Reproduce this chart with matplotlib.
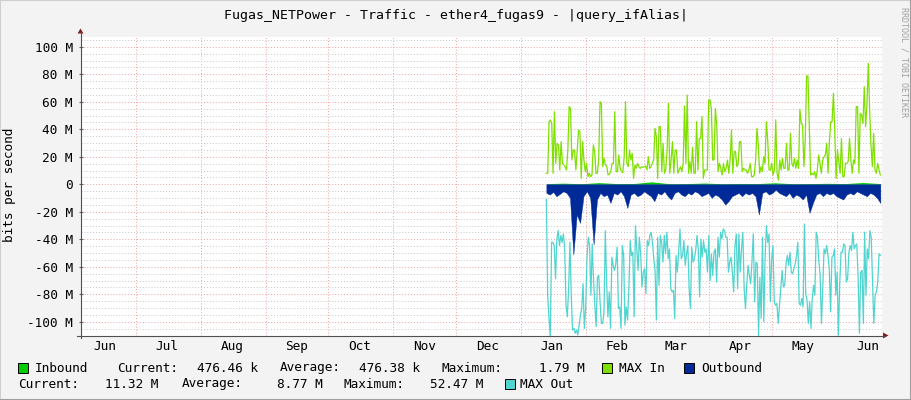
import datetime as dt
import numpy as np
import matplotlib
matplotlib.use('Agg')
import matplotlib.pyplot as plt
import matplotlib.dates as mdates
from matplotlib.ticker import FixedLocator, MultipleLocator
from matplotlib.patches import Rectangle, Polygon
from matplotlib.lines import Line2D

plt.rcParams['font.family'] = 'DejaVu Sans Mono'
plt.rcParams['axes.unicode_minus'] = False

W, H = 911, 400
FS = 9.2

# traffic in Mbit/s
max_in = [
    8.0, 8.0, 45.5, 46.8, 44.3, 8.0, 52.8, 15.2, 29.8, 28.6, 10.4, 31.0, 15.2, 14.0, 12.8, 10.4,
    24.9, 56.5, 55.2, 17.7, 24.9, 24.9, 10.4, 24.9, 39.5, 38.3, 4.3, 31.0, 17.7, 9.2, 15.2, 5.5,
    8.0, 5.5, 6.8, 28.6, 23.7, 8.0, 8.0, 17.7, 60.1, 58.9, 12.8, 18.9, 14.0, 13.3, 6.8, 7.5,
    9.2, 15.2, 15.2, 52.8, 9.2, 9.2, 21.3, 11.6, 9.2, 8.5, 20.1, 60.1, 15.2, 12.8, 24.9, 17.7,
    22.5, 4.3, 14.0, 11.6, 15.2, 12.8, 11.6, 12.8, 12.3, 12.8, 13.3, 10.4, 20.1, 11.6, 12.8, 15.2,
    17.7, 40.7, 34.6, 4.3, 41.9, 41.9, 9.2, 29.8, 8.0, 10.4, 24.9, 58.9, 8.0, 17.7, 31.0, 8.0,
    24.9, 24.9, 8.0, 10.4, 12.8, 9.2, 15.2, 56.9, 15.2, 64.9, 8.0, 16.5, 8.0, 26.9, 8.0, 8.0,
    45.5, 10.4, 33.4, 33.4, 49.2, 4.3, 10.4, 10.4, 10.4, 61.3, 61.3, 55.2, 17.7,
    17.7, 55.2, 43.1, 9.2, 15.2, 11.6, 6.8, 15.2, 9.2, 11.6, 17.7, 8.0, 17.7, 39.5, 8.0, 23.7,
    23.7, 12.8, 15.2, 31.0, 31.0, 9.2, 11.6, 10.4, 10.4, 8.0, 10.4, 15.2, 5.5, 5.5, 6.8, 17.7,
    40.7, 28.6, 8.0, 12.8, 9.2, 20.1, 15.2, 45.5, 32.2, 10.4, 10.4, 15.2, 6.8, 10.4, 46.8, 8.0,
    3.1, 17.7, 10.4, 18.9, 11.6, 11.6, 29.8, 10.4, 10.4, 37.1, 15.2, 12.8, 18.9, 11.6, 17.7, 11.6,
    54.5, 44.3, 43.1, 12.8, 32.2, 78.8, 78.8, 41.9, 6.8, 8.0, 6.8, 9.2, 4.3, 10.4, 21.3, 15.2,
    8.0, 17.7, 20.1, 21.3, 29.8, 8.0, 31.0, 45.5, 45.5, 66.2, 38.3, 4.3, 24.9, 16.5, 8.0, 33.4,
    5.5, 5.5, 15.2, 15.2, 16.5, 33.4, 17.7, 8.0, 17.7, 15.2, 56.5, 56.5, 8.0, 51.6, 50.4, 44.3,
    71.0, 41.9, 57.7, 88.0, 54.0, 28.6, 12.8, 37.1, 10.4, 8.0, 15.2, 10.4, 6.8,
]

max_out = [
    -11.0, -80.7, -97.6, -111.0, -42.2, -42.2, -44.6, -68.7, -39.8, -33.7, -44.6, -37.3, -42.2,
    -36.1, -47.0, -88.0, -96.4, -75.9, -42.2, -80.7, -106.0, -104.8, -108.4, -106.0, -109.6,
    -102.4, -95.2, -90.4, -72.3, -104.8, -90.4, -54.2, -38.6, -44.6, -80.7, -43.4, -68.7, -88.0,
    -103.6, -67.5, -66.3, -85.5, -101.2, -101.2, -92.8, -33.7, -71.1, -96.4, -78.3, -104.8,
    -53.0, -59.0, -62.7, -57.8, -45.8, -90.4, -89.2, -104.8, -44.6, -51.8, -102.4, -89.2, -98.8,
    -75.9, -41.0, -51.8, -49.4, -96.4, -30.1, -47.0, -62.7, -38.6, -50.6, -74.7, -63.9, -61.4,
    -79.5, -41.0, -44.6, -37.3, -34.9, -42.2, -54.2, -62.7, -98.8, -38.6, -73.5, -37.3, -42.2,
    -56.6, -37.3, -50.6, -34.9, -54.2, -47.0, -75.9, -78.3, -77.1, -97.6, -51.8, -63.9, -49.4,
    -32.5, -54.2, -51.8, -41.0, -59.0, -50.6, -44.6, -75.9, -90.4, -45.8, -56.6, -54.2, -48.2,
    -37.3, -47.0, -81.9, -39.8, -53.0, -41.0, -49.4, -47.0, -63.9, -37.3, -69.9, -50.6, -66.3,
    -49.4, -47.0,
    -71.1, -38.6, -53.0, -34.9, -39.8, -32.5, -33.7, -38.6, -38.6, -63.9, -56.6, -53.0, -63.9,
    -78.3, -44.6, -36.1, -75.9, -36.1, -63.9, -47.0, -34.9, -75.9, -90.4, -73.5, -59.0, -66.3,
    -72.3, -55.4, -36.1, -85.5, -56.6, -57.8, -110.8, -67.5, -97.6, -38.6, -100.0, -53.0, -30.1,
    -42.2, -36.1, -85.5, -54.2, -44.6, -85.5, -88.0, -86.7, -101.2, -88.0, -75.9, -62.7, -74.7,
    -73.5, -57.8, -51.8, -59.0, -49.4, -63.9, -65.1, -61.4, -57.8, -51.8, -42.2, -86.7, -88.0,
    -83.1, -89.2, -28.9, -79.5, -84.3, -101.2, -85.5, -104.8, -83.1, -73.5, -80.7, -34.9, -38.6,
    -55.4, -66.3, -101.2, -75.9, -47.0, -50.6, -44.6, -51.8, -61.4, -92.8, -53.0, -51.8, -47.0,
    -80.7, -63.9, -109.6, -71.1, -49.4, -49.4, -43.4, -44.6, -71.1, -68.7, -49.4, -44.6, -48.2,
    -34.9, -47.0, -44.6, -43.4, -67.5, -108.4, -63.9, -62.7, -101.2, -34.9, -80.7, -47.0, -54.2,
    -33.7, -38.6, -71.1, -101.2, -80.7, -78.3, -71.1, -50.6, -51.8,
]

outbound = [
    -6.3, -7.5, -5.6, -8.7, -7.0, -5.1, -6.3, -9.9, -51.1, -22.0, -28.1, -8.7, -5.1, -9.9, -43.8,
    -11.1, -6.3, -8.7, -7.5, -13.6, -6.3, -7.5, -5.1, -8.7, -17.2, -7.5, -6.3, -8.7, -7.5, -5.1,
    -7.0, -8.7, -12.3, -6.3, -7.5, -5.1, -8.7, -11.1, -6.3, -5.1, -7.5, -8.7, -6.3, -7.5, -5.1,
    -6.3, -8.7, -7.5, -6.3, -9.9, -7.5, -8.7, -11.1, -14.8, -12.3, -8.7, -7.5, -6.3, -8.7, -6.3,
    -7.5, -6.3, -8.7, -22.0, -6.3, -5.1, -7.5, -6.3, -3.9, -6.3, -7.5, -8.7, -6.3, -9.9, -7.5,
    -8.7, -11.1, -7.5, -20.8, -13.6, -7.5, -6.3, -8.7, -6.3, -7.5, -6.3, -8.7, -9.9, -11.1, -7.5,
    -6.3, -7.5, -5.1, -6.3, -7.5, -8.7, -6.3, -7.5, -9.9, -13.6,
]

inbound = [0.5, 0.8, 0.4, 1.2, 0.5, 0.6, 1.8, 0.4, 0.5, 0.9, 0.4, 0.6, 0.5, 1.1, 0.4, 0.5,
           0.7, 0.5, 1.3, 0.5]

month_names = ['Jun', 'Jul', 'Aug', 'Sep', 'Oct', 'Nov', 'Dec',
               'Jan', 'Feb', 'Mar', 'Apr', 'May', 'Jun']
y_ticks = [100, 80, 60, 40, 20, 0, -20, -40, -60, -80, -100]

x_start = dt.datetime(2012, 6, 4, 13, 30)
x_end = dt.datetime(2013, 6, 22, 9)
data_start = dt.datetime(2013, 1, 13, 5)
data_end = dt.datetime(2013, 6, 21, 20)


def px(x, y):
    return (x / W, 1 - y / H)


fig = plt.figure(figsize=(W / 100, H / 100), dpi=100, facecolor='#f3f3f3')
ax = fig.add_axes([80.5 / W, 1 - 335.5 / H, 801 / W, 299 / H])
ax.set_facecolor('white')

d0, d1 = mdates.date2num(data_start), mdates.date2num(data_end)
t_in = np.linspace(d0, d1, len(max_in))
t_out = np.linspace(d0, d1, len(max_out))
t_ob = np.linspace(d0, d1, len(outbound))
t_ib = np.linspace(d0, d1, len(inbound))

ax.plot(t_in, max_in, color='#7fe000', lw=0.9, zorder=3)
ax.fill_between(t_ib, inbound, 0, color='#00cc00', lw=0, zorder=3)
ax.plot(t_out, max_out, color='#50d4cf', lw=0.9, zorder=3)
ax.fill_between(t_ob, outbound, 0, color='#002a97', lw=0.3, edgecolor='#002a97', zorder=4)

ax.set_xlim(mdates.date2num(x_start), mdates.date2num(x_end))
ax.set_ylim(-110, 107.5)

# grid
month_starts = [dt.datetime(2012, m, 1) for m in range(7, 13)] + \
               [dt.datetime(2013, m, 1) for m in range(1, 7)]
label_pos = [dt.datetime(2012, m, 16) for m in range(6, 13)] + \
            [dt.datetime(2013, m, 16) for m in range(1, 7)]
ax.xaxis.set_major_locator(FixedLocator(mdates.date2num(label_pos)))
ax.xaxis.set_minor_locator(FixedLocator(mdates.date2num(month_starts)))
ax.set_xticklabels(month_names)
ax.yaxis.set_major_locator(FixedLocator(y_ticks))
ax.yaxis.set_minor_locator(MultipleLocator(5))
ax.set_yticklabels([('%d M' % v) if v != 0 else '0' for v in y_ticks])

ax.grid(which='minor', axis='y', color='#c8c8c8', lw=0.7, linestyle=(0, (1, 2)), zorder=1)
ax.grid(which='major', axis='y', color='#f0a0a0', lw=0.7, linestyle=(0, (1, 2)), zorder=1)
ax.grid(which='minor', axis='x', color='#f0a0a0', lw=0.7, linestyle=(0, (1, 2)), zorder=1)
ax.set_axisbelow(True)

ax.tick_params(axis='x', which='both', length=0, pad=3, labelsize=FS)
ax.tick_params(axis='y', which='major', length=3, direction='inout', color='#606060',
               pad=3.9, labelsize=FS)
ax.tick_params(axis='y', which='minor', length=0)
for s in ax.spines.values():
    s.set_visible(False)

# axis lines and arrows
fig.add_artist(Line2D([80.5 / W, 80.5 / W], [1 - 338 / H, 1 - 32 / H], color='#505050', lw=0.8))
fig.add_artist(Line2D([77 / W, 884 / W], [1 - 335.5 / H, 1 - 335.5 / H], color='#505050', lw=0.8))
fig.add_artist(Polygon([px(77.5, 33.5), px(83.5, 33.5), px(80.5, 28.5)], closed=True,
                       facecolor='#7f1f1f', edgecolor='none'))
fig.add_artist(Polygon([px(883, 332.5), px(883, 338.5), px(888.5, 335.5)], closed=True,
                       facecolor='#7f1f1f', edgecolor='none'))

# title, labels, watermark
fig.text(*px(455.5, 15), 'Fugas_NETPower - Traffic - ether4_fugas9 - |query_ifAlias|',
         ha='center', va='center', fontsize=9.5)
fig.text(*px(10, 185), 'bits per second', rotation=90, ha='center', va='center', fontsize=FS)
fig.text(*px(904, 62), 'RRDTOOL / TOBI OETIKER', rotation=270, ha='center', va='center',
         fontsize=6, color='#a0a0a0')

# legend
legend_boxes = [(18, 368, '#00cc00'), (602, 368, '#7fe000'), (684, 368, '#002a97'),
                (505, 384, '#50d4cf')]
for bx, by, c in legend_boxes:
    fig.add_artist(Rectangle(px(bx, by + 5), 10 / W, 10 / H, facecolor=c,
                             edgecolor='black', lw=0.7))

legend_texts = [
    (35, 368, 'Inbound', 'left'), (117, 368, 'Current:', 'left'), (197, 368, '476.46 k', 'left'),
    (280, 368, 'Average:', 'left'), (359, 368, '476.38 k', 'left'), (441, 368, 'Maximum:', 'left'),
    (585, 368, '1.79 M', 'right'), (619, 368, 'MAX In', 'left'), (701, 368, 'Outbound', 'left'),
    (18, 384, 'Current:', 'left'), (105, 384, '11.32 M', 'left'), (182, 384, 'Average:', 'left'),
    (277, 384, '8.77 M', 'left'), (343, 384, 'Maximum:', 'left'), (430, 384, '52.47 M', 'left'),
    (520, 384, 'MAX Out', 'left'),
]
for tx, ty, s, ha in legend_texts:
    fig.text(*px(tx, ty), s, ha=ha, va='center', fontsize=FS)

# 3d frame
fig.add_artist(Line2D([0, 0], [0, 1], color='#cfcfcf', lw=1.5))
fig.add_artist(Line2D([0, 1], [1, 1], color='#cfcfcf', lw=1.5))
fig.add_artist(Line2D([1, 1], [0, 1], color='#9e9e9e', lw=1.5))
fig.add_artist(Line2D([0, 1], [0, 0], color='#9e9e9e', lw=1.5))

fig.savefig('out.png', dpi=100, facecolor=fig.get_facecolor())
